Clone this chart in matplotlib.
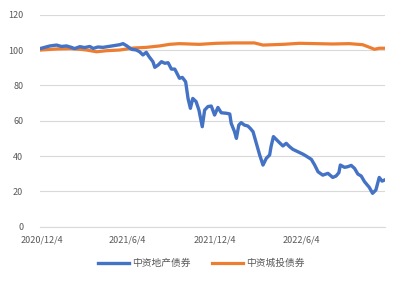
import numpy as np
import pandas as pd
import matplotlib
matplotlib.use("Agg")
import matplotlib.pyplot as plt

plt.rcParams['font.family'] = ['Noto Sans CJK SC', 'DejaVu Sans']

start = pd.Timestamp("2020-12-04")

# 中资地产债券 (days since 2020/12/4, index value)
property_days = [0, 18, 32, 42, 53, 63, 70, 81, 91, 102, 109, 119, 130, 151, 165, 172, 179,
                 190, 200, 207, 214, 221, 227, 235, 239, 246, 253, 260, 267, 274, 281, 284,
                 291, 297, 304, 309, 314, 319, 326, 332, 339, 344, 351, 358, 365, 372, 379,
                 390, 397, 400, 407, 411, 416, 421, 428, 435, 440, 446, 453, 460, 467, 474,
                 481, 484, 489, 495, 502, 509, 516, 523, 530, 540, 551, 558, 569, 576, 583,
                 593, 604, 614, 621, 627, 630, 639, 646, 653, 660, 667, 674, 681, 691, 698,
                 705, 712, 718, 723]
property_vals = [101.0, 102.3, 102.8, 102.0, 102.3, 101.5, 100.8, 101.9, 101.4, 102.0, 100.9,
                 101.7, 101.5, 102.4, 103.0, 103.6, 102.5, 100.4, 100.0, 99.0, 97.2, 98.7,
                 96.2, 93.4, 90.2, 91.5, 93.4, 92.5, 92.8, 89.2, 89.2, 87.7, 84.0, 84.5,
                 82.0, 72.6, 67.0, 72.6, 70.8, 66.0, 56.6, 66.0, 68.0, 68.3, 63.2, 67.5,
                 64.5, 64.2, 63.8, 58.5, 53.8, 50.0, 57.5, 58.9, 57.5, 57.0, 55.7, 53.8,
                 47.2, 40.6, 34.9, 38.7, 40.6, 45.3, 51.0, 49.4, 47.5, 45.7, 47.2, 45.3,
                 43.8, 42.5, 41.1, 40.0, 38.1, 34.9, 31.1, 29.2, 30.2, 27.9, 28.7, 30.6,
                 34.9, 33.6, 34.0, 34.7, 33.0, 29.8, 28.7, 25.5, 22.3, 18.9, 20.8, 27.9,
                 25.8, 26.4]

# 中资城投债券
lgfv_days = [0, 32, 60, 81, 95, 116, 137, 165, 193, 221, 249, 270, 291, 333, 369, 404,
             449, 467, 509, 544, 579, 614, 649, 677, 688, 702, 712, 723]
lgfv_vals = [100.0, 100.6, 100.8, 100.4, 100.0, 99.0, 99.6, 100.0, 101.1, 101.5, 102.3,
             103.2, 103.6, 103.2, 103.8, 104.0, 104.0, 102.8, 103.2, 103.8, 103.6, 103.4,
             103.6, 103.0, 101.9, 100.4, 101.0, 101.0]

tick_dates = ["2020-12-04", "2021-06-04", "2021-12-04", "2022-06-04"]
tick_labels = ["2020/12/4", "2021/6/4", "2021/12/4", "2022/6/4"]
series_names = ["中资地产债券", "中资城投债券"]

property_x = start + pd.to_timedelta(property_days, unit="D")
lgfv_x = start + pd.to_timedelta(lgfv_days, unit="D")

fig = plt.figure(figsize=(4.02, 2.82), dpi=100)
ax = fig.add_axes([0.0995, 0.196, 0.858, 0.752])

ax.plot(property_x, property_vals, color="#4472C4", linewidth=2.4,
        solid_joinstyle="round", label=series_names[0], zorder=3)
ax.plot(lgfv_x, lgfv_vals, color="#ED7D31", linewidth=2.3,
        solid_joinstyle="round", label=series_names[1], zorder=2)

ax.set_ylim(0, 120)
ax.set_yticks(np.arange(0, 121, 20))
ax.set_xlim(start - pd.Timedelta(days=3), start + pd.Timedelta(days=724))
ax.set_xticks(pd.to_datetime(tick_dates))
ax.set_xticklabels(tick_labels)

ax.grid(axis="y", color="#D9D9D9", linewidth=0.8)
ax.set_axisbelow(True)
for s in ["top", "right", "left"]:
    ax.spines[s].set_visible(False)
ax.spines["bottom"].set_color("#D9D9D9")
ax.spines["bottom"].set_linewidth(0.8)
ax.tick_params(axis="both", length=0, labelsize=6.5, labelcolor="#595959")
ax.tick_params(axis="y", pad=12)
ax.tick_params(axis="x", pad=6)

fig.legend(loc="center", bbox_to_anchor=(0.5, 0.067), ncol=2, frameon=False,
           fontsize=7, handlelength=3.2, handletextpad=0.3, columnspacing=2.2,
           labelcolor="#595959")

fig.savefig("out.png", dpi=100)
